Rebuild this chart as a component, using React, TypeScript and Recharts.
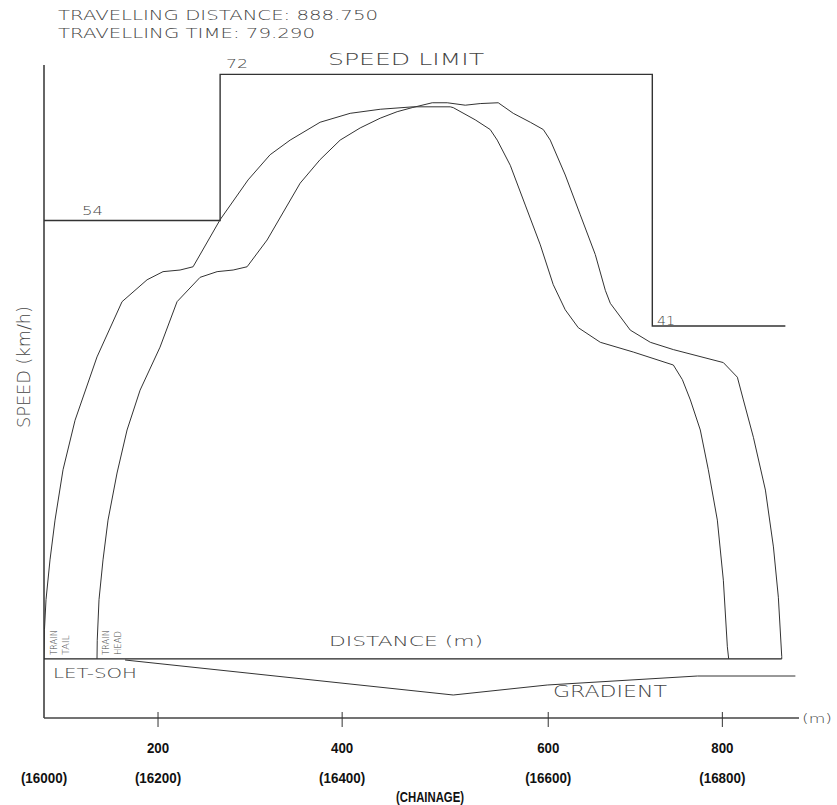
import { ComposedChart, Line, XAxis, YAxis, ReferenceLine } from "recharts";

// distance from start of train tail (m), speed (km/h)
const tailTrace: [number, number][] = [
  [0, 0], [0.6, 3.6], [2.6, 7.3], [7.8, 12.2], [14.3, 17.1], [24.7, 23.3], [40.3, 29.4],
  [68.8, 37.2], [101.3, 44.0], [133.8, 46.7], [154.5, 47.7], [176.6, 47.9], [193.5, 48.3],
  [228.6, 54.1], [264.9, 59.0], [293.5, 62.1], [319.5, 63.9], [358.4, 66.1], [397.4, 67.2],
  [436.4, 67.7], [479.2, 68.0], [527.3, 68.0], [531.2, 67.9], [559.7, 66.4], [579.2, 65.2],
  [588.3, 63.9], [605.2, 60.8], [624.7, 55.9], [644.2, 51.0], [661.0, 46.1], [676.6, 43.0],
  [693.5, 40.8], [722.1, 39.0], [764.9, 37.8], [816.9, 36.2], [828.6, 34.4], [839.0, 31.9],
  [851.9, 28.2], [862.3, 23.3], [874.0, 17.1], [881.8, 9.7], [887.0, 1.5], [888.75, 0],
];

const headTrace: [number, number][] = [
  [68.8, 0], [69.1, 2.3], [71.4, 7.3], [76.6, 12.2], [83.1, 17.1], [94.8, 22.9], [107.8, 28.2],
  [124.7, 33.1], [150.6, 38.4], [172.7, 44.0], [202.6, 47.0], [224.7, 47.7], [245.5, 47.9],
  [263.6, 48.3], [289.6, 51.6], [332.5, 58.6], [358.4, 61.5], [384.4, 63.9], [410.4, 65.4],
  [436.4, 66.6], [458.4, 67.4], [477.9, 67.9], [503.9, 68.5], [523.4, 68.5], [546.8, 68.2],
  [566.2, 68.4], [589.6, 68.5], [609.1, 67.2], [631.2, 66.1], [648.1, 65.2], [657.1, 63.9],
  [676.6, 59.6], [696.1, 54.7], [715.6, 49.8], [728.6, 45.4], [735.1, 43.8], [761.0, 40.5],
  [787.0, 39.0], [816.9, 38.1], [881.8, 36.5], [900.0, 34.7], [907.8, 31.9], [920.8, 27.3],
  [936.4, 20.8], [946.8, 13.8], [953.2, 7.6], [957.6, 0.3], [957.6, 0],
];

const speedLimit: [number, number][] = [
  [0, 54], [228.6, 72], [789.6, 41], [962.3, 41],
];

const distanceLine: [number, number][] = [
  [0, 0], [957.6, 0],
];

// track level profile (relative units)
const gradeProfile: [number, number][] = [
  [105.2, -0.25], [531.2, -9], [653.2, -6.5], [848.1, -4.25], [975.3, -4.25],
];

const tickPositions = [0, 148, 387, 654.5, 880.5];
const distanceLabels = ["", "200", "400", "600", "800"];
const chainageLabels = ["(16000)", "(16200)", "(16400)", "(16600)", "(16800)"];

const toRows = (pts: [number, number][]) => pts.map(([x, v]) => ({ x, v }));

const CAD_FONT = "'DejaVu Sans', sans-serif";
const TICK_FONT = "'Liberation Sans', Arial, sans-serif";

const DistanceTick = (props: any) => {
  const { x, y, payload } = props;
  const i = tickPositions.indexOf(payload.value);
  const lbl = distanceLabels[i];
  const ch = chainageLabels[i];
  return (
    <g>
      {lbl && <line x1={x} x2={x} y1={y - 6} y2={y + 9} stroke="#333" strokeWidth={1} />}
      {lbl && (
        <text x={x} y={y + 35} textAnchor="middle" fontFamily={TICK_FONT} fontWeight="bold" fontSize={15}
          textLength={lbl.length * 7.4} lengthAdjust="spacingAndGlyphs" fill="#111">
          {lbl}
        </text>
      )}
      <text x={x} y={y + 65} textAnchor="middle" fontFamily={TICK_FONT} fontWeight="bold" fontSize={15}
        textLength={ch.length * 6.6} lengthAdjust="spacingAndGlyphs" fill="#111">
        {ch}
      </text>
    </g>
  );
};

export default function App() {
  const cad = { fontFamily: CAD_FONT, fontWeight: 200, fill: "#444" } as const;
  return (
    <div style={{ position: "relative", width: 837, height: 805, background: "#fff" }}>
      <style>{"body{margin:0}"}</style>
      <ComposedChart width={837} height={805} margin={{ top: 65, right: 38, left: 43, bottom: 0 }}>
        <XAxis
          type="number"
          dataKey="x"
          domain={[0, 980]}
          ticks={tickPositions}
          tick={<DistanceTick />}
          tickLine={false}
          tickSize={0}
          tickMargin={0}
          height={87}
          axisLine={{ stroke: "#444", strokeWidth: 1.5 }}
          allowDataOverflow
        />
        <YAxis
          yAxisId="speed"
          type="number"
          width={1}
          domain={[-7.27, 73.15]}
          tick={false}
          tickLine={false}
          axisLine={{ stroke: "#333", strokeWidth: 1.5 }}
          allowDataOverflow
        />
        <YAxis yAxisId="grade" type="number" hide domain={[-14.75, 148.5]} allowDataOverflow />
        <ReferenceLine yAxisId="speed" x={0} stroke="#333" strokeWidth={1.5} />
        <Line yAxisId="speed" data={toRows(speedLimit)} dataKey="v" type="stepAfter" stroke="#333" strokeWidth={1.4} dot={false} isAnimationActive={false} />
        <Line yAxisId="speed" data={toRows(distanceLine)} dataKey="v" type="linear" stroke="#222" strokeWidth={1.3} dot={false} isAnimationActive={false} />
        <Line yAxisId="speed" data={toRows(tailTrace)} dataKey="v" type="linear" stroke="#333" strokeWidth={1} dot={false} isAnimationActive={false} />
        <Line yAxisId="speed" data={toRows(headTrace)} dataKey="v" type="linear" stroke="#333" strokeWidth={1} dot={false} isAnimationActive={false} />
        <Line yAxisId="grade" data={toRows(gradeProfile)} dataKey="v" type="linear" stroke="#333" strokeWidth={1} dot={false} isAnimationActive={false} />
      </ComposedChart>
      <svg width={837} height={805} style={{ position: "absolute", left: 0, top: 0, pointerEvents: "none" }}>
        <text x={58} y={20} fontSize={13.5} textLength={320} lengthAdjust="spacingAndGlyphs" {...cad}>TRAVELLING DISTANCE: 888.750</text>
        <text x={58} y={38} fontSize={13.5} textLength={257} lengthAdjust="spacingAndGlyphs" {...cad}>TRAVELLING TIME: 79.290</text>
        <text x={328} y={65} fontSize={16} textLength={156} lengthAdjust="spacingAndGlyphs" {...cad}>SPEED LIMIT</text>
        <text x={226} y={68} fontSize={13} textLength={22} lengthAdjust="spacingAndGlyphs" {...cad}>72</text>
        <text x={82} y={215} fontSize={13} textLength={21} lengthAdjust="spacingAndGlyphs" {...cad}>54</text>
        <text x={657} y={325} fontSize={13} textLength={18} lengthAdjust="spacingAndGlyphs" {...cad}>41</text>
        <text x={329} y={646} fontSize={14} textLength={154} lengthAdjust="spacingAndGlyphs" {...cad}>DISTANCE (m)</text>
        <text x={553} y={697} fontSize={16} textLength={114} lengthAdjust="spacingAndGlyphs" {...cad}>GRADIENT</text>
        <text x={53} y={678} fontSize={14} textLength={84} lengthAdjust="spacingAndGlyphs" {...cad}>LET-SOH</text>
        <text x={802} y={723} fontSize={13} textLength={30} lengthAdjust="spacingAndGlyphs" {...cad}>(m)</text>
        <text transform="translate(30,367) rotate(-90)" textAnchor="middle" fontSize={18} textLength={122} lengthAdjust="spacingAndGlyphs" {...cad}>SPEED (km/h)</text>
        <text transform="translate(57,655) rotate(-90)" fontSize={8.5} textLength={25} lengthAdjust="spacingAndGlyphs" {...cad}>TRAIN</text>
        <text transform="translate(69,655) rotate(-90)" fontSize={8.5} textLength={20} lengthAdjust="spacingAndGlyphs" {...cad}>TAIL</text>
        <text transform="translate(109,655) rotate(-90)" fontSize={8.5} textLength={25} lengthAdjust="spacingAndGlyphs" {...cad}>TRAIN</text>
        <text transform="translate(121,655) rotate(-90)" fontSize={8.5} textLength={24} lengthAdjust="spacingAndGlyphs" {...cad}>HEAD</text>
        <text x={430} y={802} textAnchor="middle" fontFamily={TICK_FONT} fontWeight="bold" fontSize={15}
          textLength={68} lengthAdjust="spacingAndGlyphs" fill="#111">(CHAINAGE)</text>
      </svg>
    </div>
  );
}
